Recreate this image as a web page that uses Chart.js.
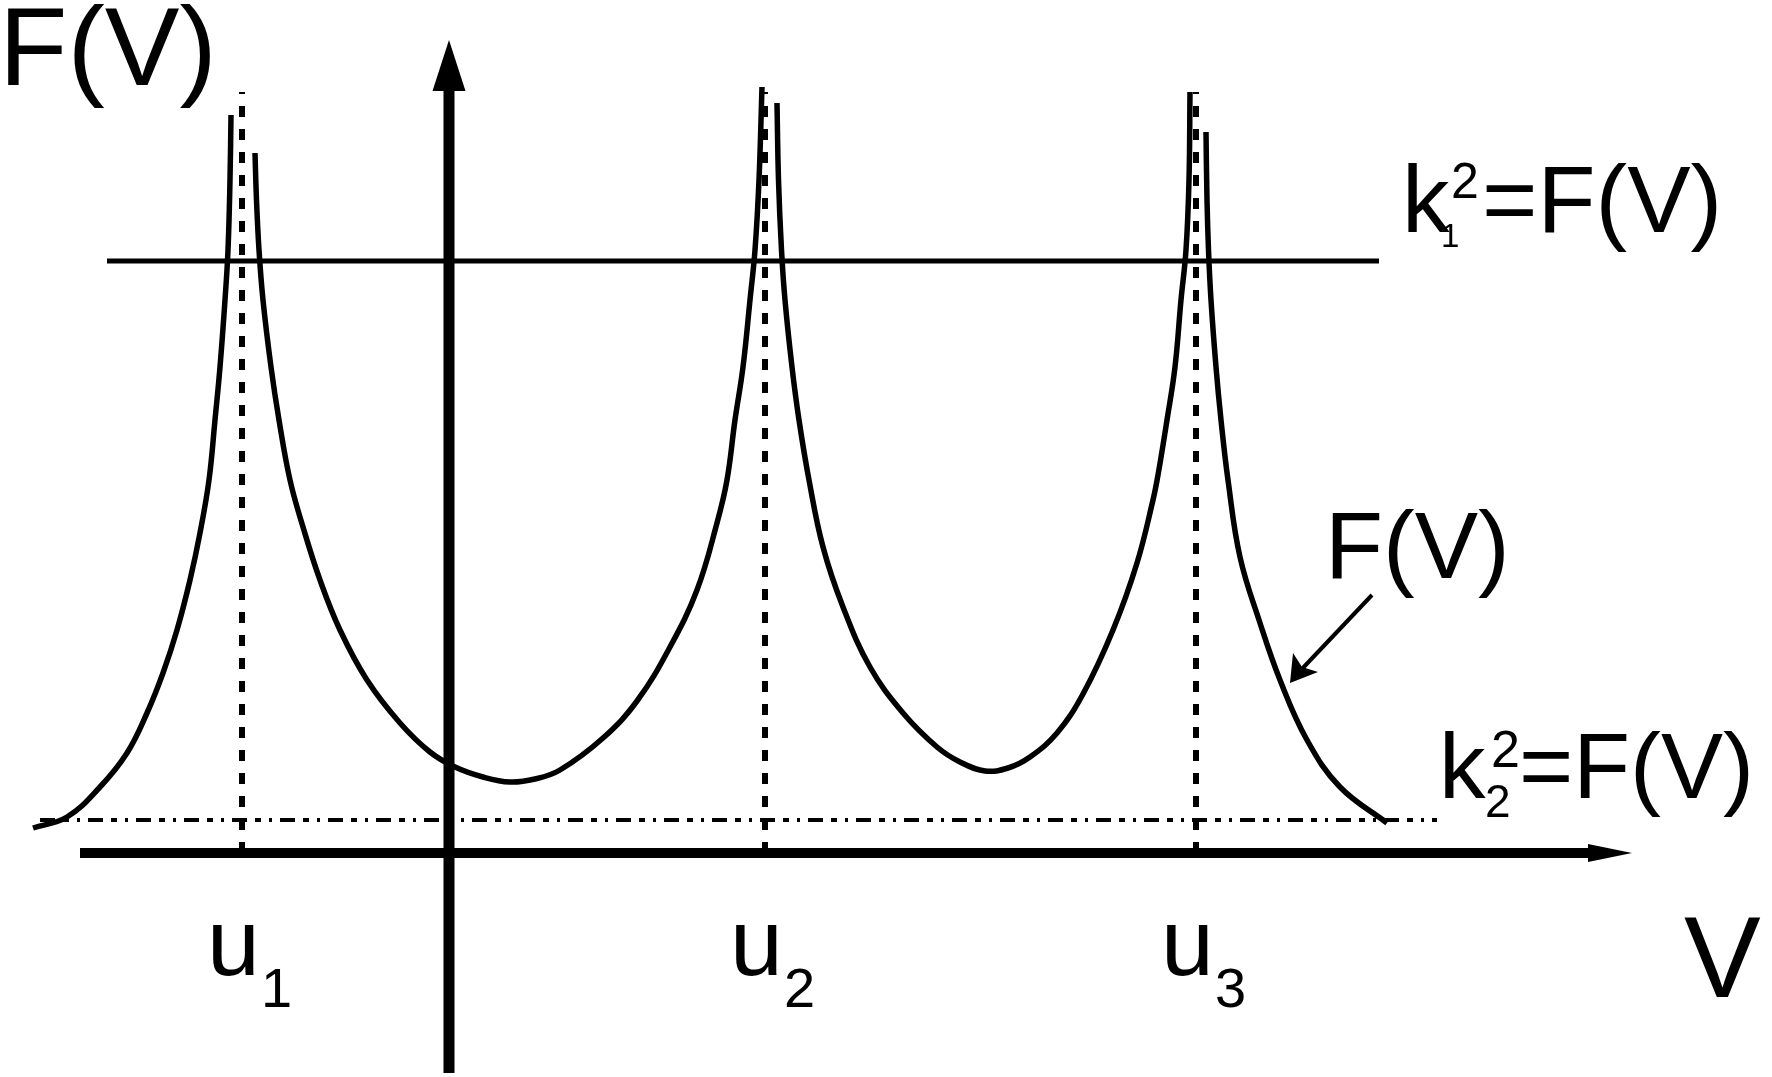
<!DOCTYPE html>
<html><head><meta charset="utf-8">
<script src="https://cdn.jsdelivr.net/npm/chart.js@4.4.1/dist/chart.umd.min.js"></script>
<style>html,body{margin:0;padding:0;background:#fff;overflow:hidden}canvas{display:block}</style>
</head><body>
<canvas id="c" width="1772" height="1077"></canvas>
<script>
// ---- data (V, F) ----
const branchLeft = [[-4.16,0.25],[-3.82,0.36],[-3.49,0.66],[-3.22,1.00],[-3.02,1.40],[-2.86,1.80],[-2.72,2.23],[-2.59,2.73],[-2.49,3.20],[-2.40,3.73],[-2.34,4.33],[-2.29,4.86],[-2.24,5.53],[-2.21,6.03],[-2.19,6.73],[-2.18,7.38]];
const branchU1U2 = [[-1.94,7.00],[-1.925,6.53],[-1.90,6.03],[-1.86,5.53],[-1.78,4.86],[-1.70,4.33],[-1.59,3.73],[-1.46,3.26],[-1.29,2.73],[-1.09,2.23],[-0.82,1.73],[-0.49,1.30],[-0.19,1.01],[0.06,0.86],[0.34,0.76],[0.61,0.71],[0.86,0.74],[1.11,0.83],[1.54,1.15],[1.88,1.52],[2.21,2.06],[2.48,2.63],[2.68,3.30],[2.78,3.73],[2.86,4.33],[2.94,4.86],[3.01,5.53],[3.06,6.03],[3.10,6.73],[3.13,7.66]];
const branchU2U3 = [[3.28,7.50],[3.295,6.73],[3.325,6.03],[3.36,5.53],[3.43,4.86],[3.50,4.33],[3.60,3.73],[3.74,3.06],[3.94,2.46],[4.21,1.86],[4.54,1.40],[4.88,1.06],[5.11,0.91],[5.36,0.82],[5.59,0.85],[5.81,0.96],[6.08,1.20],[6.34,1.59],[6.64,2.23],[6.88,2.90],[7.04,3.53],[7.09,3.78],[7.18,4.33],[7.26,4.86],[7.32,5.53],[7.37,6.03],[7.40,6.73],[7.41,7.61]];
const branchRight = [[7.57,7.21],[7.58,6.53],[7.595,6.03],[7.62,5.53],[7.67,4.86],[7.72,4.33],[7.79,3.73],[7.91,2.96],[8.11,2.30],[8.31,1.73],[8.58,1.13],[8.91,0.66],[9.38,0.30]];
const uValues = [-2.07, 3.16, 7.47];
const uSubscripts = ['1', '2', '3'];
const uLineTop = 7.61;
const k1Level = 5.92;
const k1Span = [-3.42, 9.30];
const k2Level = 0.33;
const k2Span = [-4.09, 9.88];
const xAxisSpan = [-3.69, 11.83];
const yAxisSpan = [-2.20, 8.13];
const pointerFrom = [9.23, 2.58];
const pointerTo = [8.41, 1.70];

// ---- presentation ----
const FONT = '"Liberation Sans", Arial, sans-serif';
const toPts = arr => arr.map(p => ({x: p[0], y: p[1]}));
const curveStyle = {borderColor:'#000', borderWidth:5.5, pointRadius:0, showLine:true, fill:false, tension:0.4, cubicInterpolationMode:'default'};
const datasets = [];
[branchLeft, branchU1U2, branchU2U3, branchRight].forEach(b => datasets.push(Object.assign({data: toPts(b)}, curveStyle)));
datasets.push({data:[{x:k1Span[0],y:k1Level},{x:k1Span[1],y:k1Level}], borderColor:'#000', borderWidth:5, pointRadius:0, showLine:true});
datasets.push({data:[{x:k2Span[0],y:k2Level},{x:k2Span[1],y:k2Level}], borderColor:'#000', borderWidth:4, pointRadius:0, showLine:true, borderDash:[15,8,6,8,3,8]});
uValues.forEach(u => datasets.push({data:[{x:u,y:0},{x:u,y:uLineTop}], borderColor:'#000', borderWidth:6, pointRadius:0, showLine:true, borderDash:[11,12]}));
datasets.push({data:[{x:xAxisSpan[0],y:0},{x:xAxisSpan[1]-0.40,y:0}], borderColor:'#000', borderWidth:10, pointRadius:0, showLine:true});
datasets.push({data:[{x:0,y:yAxisSpan[0]},{x:0,y:yAxisSpan[1]-0.45}], borderColor:'#000', borderWidth:11, pointRadius:0, showLine:true});
datasets.push({data:[{x:pointerFrom[0],y:pointerFrom[1]},{x:pointerTo[0]+0.1,y:pointerTo[1]+0.12}], borderColor:'#000', borderWidth:4, pointRadius:0, showLine:true});

const texts = [
  {t:'F(V)', v:-4.50, f:7.68, s:112},
  {t:'k', v:9.53, f:6.21, s:95},
  {t:'1', v:9.92, f:6.06, s:33},
  {t:'2', v:10.02, f:6.55, s:50},
  {t:'=F(V)', v:10.33, f:6.21, s:95},
  {t:'F(V)', v:8.76, f:2.75, s:95},
  {t:'k', v:9.90, f:0.55, s:93},
  {t:'2', v:10.36, f:0.36, s:46},
  {t:'2', v:10.42, f:0.86, s:52},
  {t:'=F(V)', v:10.70, f:0.55, s:93},
  {t:'V', v:12.35, f:-1.44, s:115}
];
const uTextOffsets = {u:-0.35, sub:0.19};

const overlay = {
  id:'overlay',
  afterDatasetsDraw(chart){
    const ctx = chart.ctx, X = chart.scales.x, Y = chart.scales.y;
    const px = v => X.getPixelForValue(v), py = f => Y.getPixelForValue(f);
    ctx.save();
    ctx.fillStyle = '#000';
    // y-axis head
    ctx.beginPath();
    ctx.moveTo(px(0), py(yAxisSpan[1]));
    ctx.lineTo(px(-0.165), py(yAxisSpan[1]-0.51));
    ctx.lineTo(px(0.165), py(yAxisSpan[1]-0.51));
    ctx.closePath(); ctx.fill();
    // x-axis head
    ctx.beginPath();
    ctx.moveTo(px(xAxisSpan[1]), py(0));
    ctx.lineTo(px(xAxisSpan[1]-0.44), py(0.09));
    ctx.lineTo(px(xAxisSpan[1]-0.44), py(-0.09));
    ctx.closePath(); ctx.fill();
    // pointer head
    ctx.beginPath();
    ctx.moveTo(px(pointerTo[0]), py(pointerTo[1]));
    ctx.lineTo(px(8.44), py(2.00));
    ctx.lineTo(px(8.53), py(1.86));
    ctx.lineTo(px(8.69), py(1.81));
    ctx.closePath(); ctx.fill();
    // texts
    ctx.textAlign = 'left'; ctx.textBaseline = 'alphabetic';
    texts.forEach(o => { ctx.font = o.s + 'px ' + FONT; ctx.fillText(o.t, px(o.v), py(o.f)); });
    uValues.forEach((u,i) => {
      ctx.font = '95px ' + FONT; ctx.fillText('u', px(u + uTextOffsets.u), py(-1.22));
      ctx.font = '56px ' + FONT; ctx.fillText(uSubscripts[i], px(u + uTextOffsets.sub), py(-1.54));
    });
    ctx.restore();
  }
};

new Chart(document.getElementById('c'), {
  type:'scatter',
  data:{datasets},
  options:{
    responsive:false, animation:false, devicePixelRatio:1,
    layout:{padding:0},
    plugins:{legend:{display:false}, tooltip:{enabled:false}},
    scales:{
      x:{type:'linear', min:-4.49, max:13.23, display:false},
      y:{type:'linear', min:-2.24, max:8.53, display:false}
    }
  },
  plugins:[overlay]
});
</script>
</body></html>
